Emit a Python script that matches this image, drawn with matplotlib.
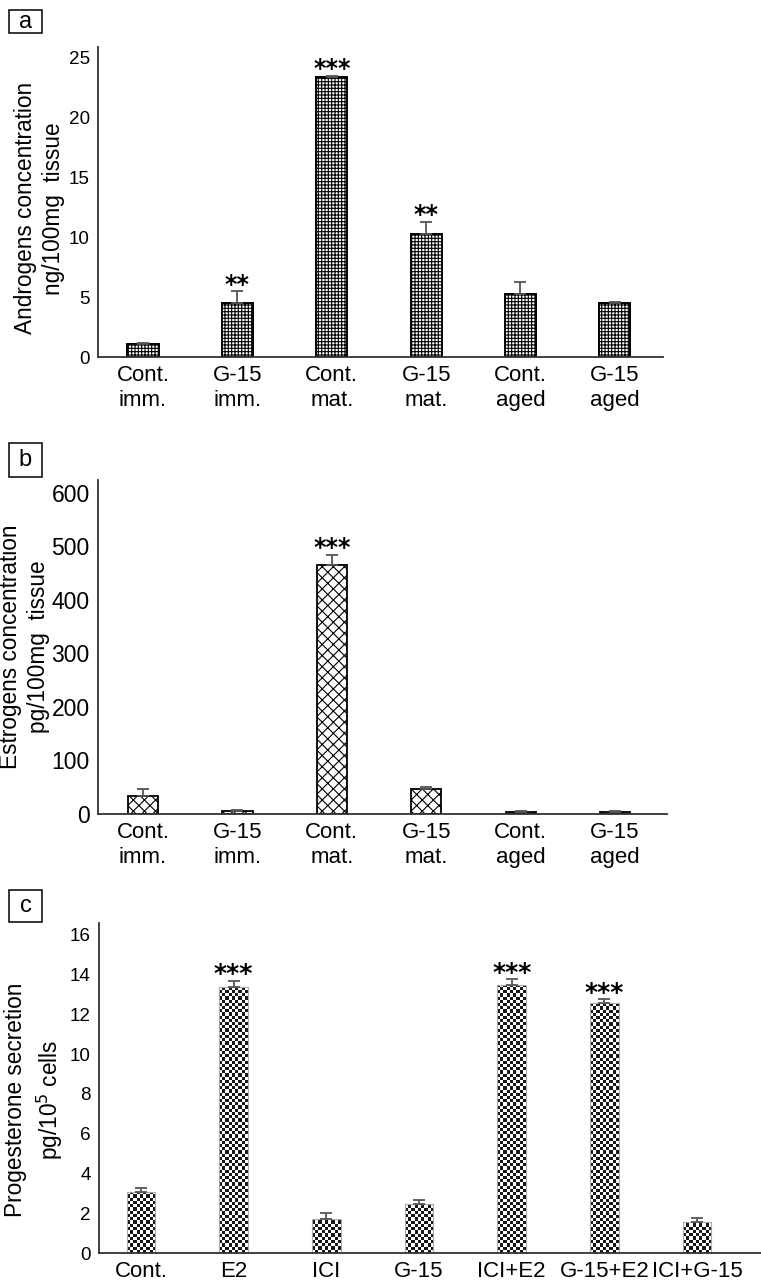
import numpy as np
import matplotlib
matplotlib.use("Agg")
import matplotlib.pyplot as plt
from matplotlib.patches import Rectangle

plt.rcParams['font.family'] = ['Liberation Sans', 'DejaVu Sans']
plt.rcParams['hatch.linewidth'] = 0.8

# ---------------- data ----------------
groups_ab = ["Cont.\nimm.", "G-15\nimm.", "Cont.\nmat.", "G-15\nmat.", "Cont.\naged", "G-15\naged"]
androgens = [1.1, 4.5, 23.4, 10.3, 5.3, 4.5]
androgens_err = [0.05, 1.0, 0.1, 1.0, 1.0, 0.1]
androgens_sig = ["", "**", "***", "**", "", ""]

estrogens = [34, 6, 465, 46, 4, 4]
estrogens_err = [13, 1, 19, 5, 1.5, 1.5]
estrogens_sig = ["", "", "***", "", "", ""]

groups_c = ["Cont.", "E2", "ICI", "G-15", "ICI+E2", "G-15+E2", "ICI+G-15"]
progesterone = [3.07, 13.4, 1.73, 2.44, 13.46, 12.56, 1.56]
progesterone_err = [0.2, 0.3, 0.3, 0.23, 0.3, 0.2, 0.22]
progesterone_sig = ["", "***", "", "", "***", "***", ""]

yticks_a = [0, 5, 10, 15, 20, 25]
yticks_b = [0, 100, 200, 300, 400, 500, 600]
yticks_c = [0, 2, 4, 6, 8, 10, 12, 14, 16]

W, H = 761, 1281
fig = plt.figure(figsize=(W / 100, H / 100), dpi=100)


def rect(l, t, r, b):
    return [l / W, 1 - b / H, (r - l) / W, (b - t) / H]


def style(ax, yticks, ytick_size, xtick_size=16):
    for s in ['top', 'right']:
        ax.spines[s].set_visible(False)
    for s in ['left', 'bottom']:
        ax.spines[s].set_color('#333333')
        ax.spines[s].set_linewidth(1.3)
    ax.set_yticks(yticks)
    ax.tick_params(axis='y', length=0, pad=6, labelsize=ytick_size)
    ax.tick_params(axis='x', length=0, pad=6, labelsize=xtick_size)


def stars(ax, x, vals, errs, sig, size=17):
    for xi, v, e, s in zip(x, vals, errs, sig):
        if s:
            ax.annotate(s, (xi, v + e), xytext=(0, -4), textcoords='offset points',
                        ha='center', va='bottom', fontsize=size, fontweight='bold',
                        family='DejaVu Sans')


def panel_letter(letter, l, t, r, b):
    fig.add_artist(Rectangle((l / W, 1 - b / H), (r - l) / W, (b - t) / H,
                             transform=fig.transFigure, fc='white', ec='black', lw=1.1))
    fig.text((l + r) / 2 / W, 1 - (t + b) / 2 / H, letter, ha='center', va='center',
             fontsize=17)


err_kw = dict(ecolor='#555555', elinewidth=1.3, capsize=4, capthick=1.3)

# ---------------- panel a ----------------
ax1 = fig.add_axes(rect(98, 47, 663, 357))
x_ab = np.arange(len(groups_ab))
ax1.bar(x_ab, androgens, width=0.33, color='white', edgecolor='black', linewidth=1.4,
        hatch='+++++', yerr=[np.zeros(len(androgens)), androgens_err], error_kw=err_kw)
ax1.set_xlim(-0.477, 5.51)
ax1.set_ylim(0, 25.9)
ax1.set_xticks(x_ab)
ax1.set_xticklabels(groups_ab)
style(ax1, yticks_a, 13.6)
stars(ax1, x_ab, androgens, androgens_err, androgens_sig)
ax1.set_ylabel("Androgens concentration\nng/100mg  tissue", fontsize=16.3, linespacing=1.3)
ax1.yaxis.set_label_coords(-0.058, 0.48)
panel_letter('a', 9, 10, 42, 33)

# ---------------- panel b ----------------
ax2 = fig.add_axes(rect(98, 480, 667, 814))
ax2.bar(x_ab, estrogens, width=0.32, color='white', edgecolor='black', linewidth=1.3,
        hatch='xxx', yerr=[np.zeros(len(estrogens)), estrogens_err], error_kw=err_kw)
ax2.set_xlim(-0.477, 5.55)
ax2.set_ylim(0, 624)
ax2.set_xticks(x_ab)
ax2.set_xticklabels(groups_ab)
style(ax2, yticks_b, 16.5)
stars(ax2, x_ab, estrogens, estrogens_err, estrogens_sig)
ax2.set_ylabel("Estrogens concentration\npg/100mg  tissue", fontsize=16.3, linespacing=1.3)
ax2.yaxis.set_label_coords(-0.084, 0.5)
panel_letter('b', 9, 443, 42, 477)

# ---------------- panel c ----------------
ax3 = fig.add_axes(rect(99, 923, 761, 1253))
x_c = np.arange(len(groups_c))
ax3.set_xlim(-0.453, 6.69)
ax3.set_ylim(0, 16.6)
bars = ax3.bar(x_c, progesterone, width=0.31, facecolor='none', edgecolor='#aaaaaa',
               linewidth=0.8, yerr=[np.zeros(len(progesterone)), progesterone_err],
               error_kw=err_kw, zorder=2)
# checkerboard fill clipped to each bar
px_x = ax3.transData.transform((1, 0))[0] - ax3.transData.transform((0, 0))[0]
px_y = ax3.transData.transform((0, 1))[1] - ax3.transData.transform((0, 0))[1]
cell = 3.2
for b in bars:
    x0, w, h = b.get_x(), b.get_width(), b.get_height()
    nx = int(np.ceil(w * px_x / cell))
    ny = int(np.ceil(h * px_y / cell)) + 1
    arr = np.indices((ny, nx)).sum(0) % 2
    im = ax3.imshow(arr, cmap='gray_r', vmin=0, vmax=1.1, interpolation='nearest',
                    extent=(x0, x0 + nx * cell / px_x, 0, ny * cell / px_y),
                    origin='lower', aspect='auto', zorder=1)
    im.set_clip_path(b)
ax3.set_xlim(-0.453, 6.69)
ax3.set_ylim(0, 16.6)
ax3.set_xticks(x_c)
ax3.set_xticklabels(groups_c)
style(ax3, yticks_c, 13.6)
stars(ax3, x_c, progesterone, progesterone_err, progesterone_sig, size=18)
ax3.set_ylabel("Progesterone secretion\npg/10$^5$ cells", fontsize=16.3, linespacing=1.3)
ax3.yaxis.set_label_coords(-0.052, 0.464)
panel_letter('c', 9, 890, 42, 922)

fig.savefig("out.png", dpi=100)
